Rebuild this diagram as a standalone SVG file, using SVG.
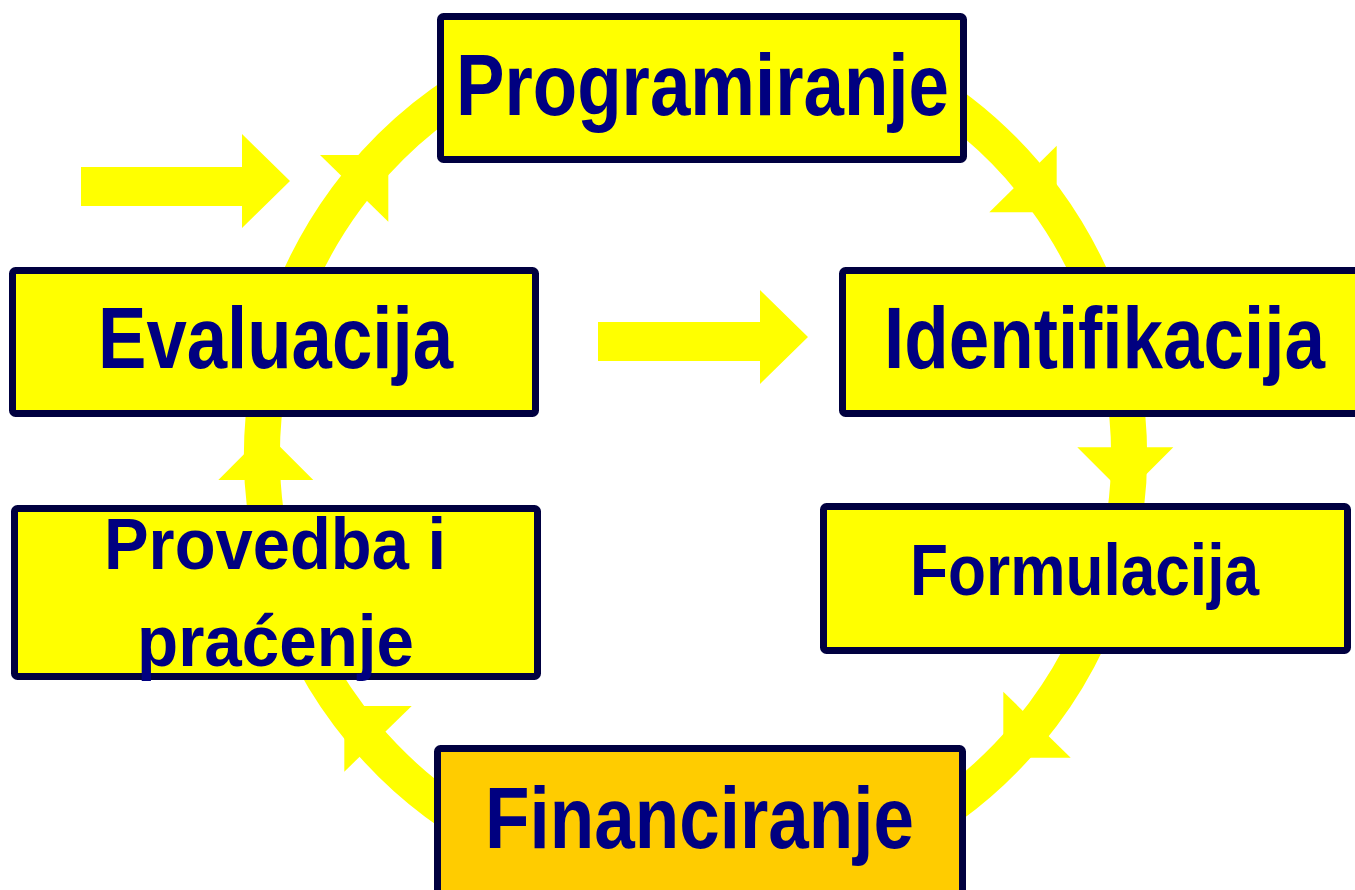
<svg xmlns="http://www.w3.org/2000/svg" width="1355" height="890" viewBox="0 0 1355 890">
<style>
.box{fill:#FFFF00;stroke:#000040;stroke-width:7}
.fin{fill:#FFCC00}
.lbl{font-family:"Liberation Sans",Arial,sans-serif;font-weight:bold;fill:#000080}
.big{font-size:88px}
.mid{font-size:73px}
.arr{fill:#FFFF00}
</style>
<rect width="1355" height="890" fill="#FFFFFF"/>
<g id="connectors">
<path d="M 480 79 A 433.5 433.5 0 1 0 911 79" fill="none" stroke="#FFFF00" stroke-width="36"/>
<polygon class="arr" points="320,155 388.3,155 388.3,221.7"/>
<polygon class="arr" points="1056.7,145.7 1056.7,212.3 989.3,212.3"/>
<polygon class="arr" points="1077.3,447.3 1173.3,447.3 1125.3,495.3"/>
<polygon class="arr" points="1003.3,691.7 1003.3,757.7 1070.7,757.7"/>
<polygon class="arr" points="411.7,706 344.3,706 344.3,771.7"/>
<polygon class="arr" points="218.3,480 265.8,432.5 313.3,480"/>
<polygon class="arr" points="81,167 242,167 242,134 290,181 242,228 242,206 81,206"/>
<polygon class="arr" points="598,322 760,322 760,290 808,337 760,384 760,361 598,361"/>
</g>
<g id="programiranje">
<rect class="box" x="440.5" y="16.5" width="523" height="143" rx="3"/>
<text class="lbl big" x="456" y="115" textLength="493" lengthAdjust="spacingAndGlyphs">Programiranje</text>
</g>
<g id="identifikacija">
<rect class="box" x="842.5" y="270.5" width="527" height="143" rx="3"/>
<text class="lbl big" x="884" y="368" textLength="441" lengthAdjust="spacingAndGlyphs">Identifikacija</text>
</g>
<g id="evaluacija">
<rect class="box" x="12.5" y="270.5" width="523" height="143" rx="3"/>
<text class="lbl big" x="98" y="368" textLength="355" lengthAdjust="spacingAndGlyphs">Evaluacija</text>
</g>
<g id="provedba">
<rect class="box" x="14.5" y="508.5" width="523" height="168" rx="3"/>
<text class="lbl" font-size="72" x="104" y="569" textLength="342" lengthAdjust="spacingAndGlyphs">Provedba i</text>
<text class="lbl" font-size="72" x="137" y="666" textLength="277" lengthAdjust="spacingAndGlyphs">praćenje</text>
</g>
<g id="formulacija">
<rect class="box" x="823.5" y="506.5" width="524" height="144" rx="3"/>
<text class="lbl mid" x="910" y="595" textLength="349" lengthAdjust="spacingAndGlyphs">Formulacija</text>
</g>
<g id="financiranje">
<rect class="box fin" x="437.5" y="748.5" width="525" height="145" rx="3"/>
<text class="lbl big" x="485" y="848" textLength="429" lengthAdjust="spacingAndGlyphs">Financiranje</text>
</g>
</svg>
